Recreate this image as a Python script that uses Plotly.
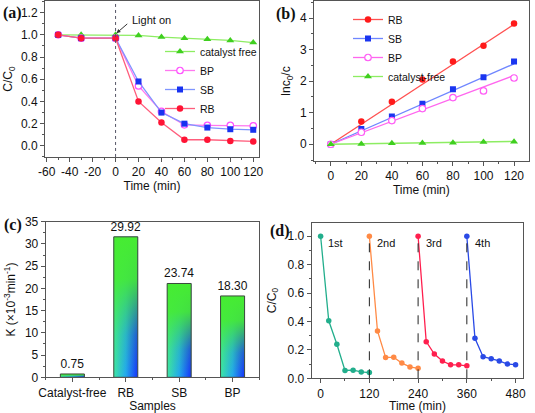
import plotly.graph_objects as go

# ---------------- (a) C/C0 vs time ----------------
time_a = [-50, -30, 0, 20, 40, 60, 80, 100, 120]
cc0_catalyst_free = [1.0, 1.0, 1.0, 0.995, 0.98, 0.97, 0.96, 0.95, 0.93]
cc0_BP = [1.0, 0.97, 0.97, 0.54, 0.31, 0.19, 0.185, 0.185, 0.18]
cc0_SB = [1.0, 0.97, 0.97, 0.58, 0.30, 0.20, 0.165, 0.15, 0.145]
cc0_RB = [1.0, 0.97, 0.97, 0.40, 0.21, 0.055, 0.055, 0.045, 0.04]
light_on_time = 0
a_xtick_vals = [-60, -40, -20, 0, 20, 40, 60, 80, 100, 120]
a_xtick_text = ["-60", "-40", "-20", "0", "20", "40", "60", "80", "100", "120"]

# ---------------- (b) ln(c0/c) vs time ----------------
time_b = [0, 20, 40, 60, 80, 100, 120]
ln_RB = [0, 0.72, 1.35, 2.05, 2.62, 3.12, 3.83]
ln_SB = [0, 0.48, 0.88, 1.28, 1.74, 2.12, 2.62]
ln_BP = [0, 0.38, 0.75, 1.13, 1.48, 1.69, 2.10]
ln_cf = [0, 0.01, 0.03, 0.04, 0.05, 0.07, 0.08]
fit_time = [0, 120]
fit_RB = [0, 3.80]
fit_SB = [0, 2.55]
fit_BP = [0, 2.18]
fit_cf = [0, 0.09]

# ---------------- (c) rate constants ----------------
samples = ["Catalyst-free", "RB", "SB", "BP"]
k_bar_heights = [0.75, 31.6, 21.1, 18.3]
k_labels = ["0.75", "29.92", "23.74", "18.30"]

# ---------------- (d) cycling ----------------
cycle_names = ["1st", "2nd", "3rd", "4th"]
cycle_starts = [0, 120, 240, 360]
cycle_times = [
    [0, 20, 40, 60, 80, 100, 120],
    [120, 140, 160, 180, 200, 220, 240],
    [240, 260, 280, 300, 320, 340, 360],
    [360, 380, 400, 420, 440, 460, 480],
]
cycle_values = [
    [1.0, 0.405, 0.24, 0.055, 0.057, 0.045, 0.04],
    [1.0, 0.333, 0.147, 0.148, 0.107, 0.08, 0.07],
    [1.0, 0.258, 0.171, 0.122, 0.095, 0.095, 0.088],
    [1.0, 0.281, 0.152, 0.138, 0.122, 0.10, 0.096],
]
cycle_boundaries = [120, 240, 360]
cycle_colors = ["#22ae8c", "#ff8a45", "#ff1f4e", "#2a4ae6"]

AX = "#555555"
FONT = "Liberation Sans, Arial, sans-serif"
TICK = 12

fig = go.Figure()

# ---- (a)
a_specs = [
    ("catalyst free", cc0_catalyst_free, "#8ded62", dict(symbol="triangle-up", size=7, color="#3fcf1f")),
    ("BP", cc0_BP, "#ff77f0", dict(symbol="circle", size=6.5, color="white", line=dict(color="#ff4fff", width=1.2))),
    ("SB", cc0_SB, "#7f95ff", dict(symbol="square", size=6, color="#1832f0")),
    ("RB", cc0_RB, "#ff5d7c", dict(symbol="circle", size=6.5, color="#ff1435")),
]
for name, vals, lc, mk in a_specs:
    fig.add_trace(go.Scatter(x=time_a, y=vals, name=name, mode="lines+markers",
                             line=dict(color=lc, width=1.3), marker=mk,
                             xaxis="x", yaxis="y", legend="legend"))

# ---- (b)
b_specs = [
    ("RB", ln_RB, fit_RB, "#ff5050", dict(symbol="circle", size=6.5, color="#ff1a1a")),
    ("SB", ln_SB, fit_SB, "#6f86ff", dict(symbol="square", size=6, color="#1a35f0")),
    ("BP", ln_BP, fit_BP, "#ff66ee", dict(symbol="circle", size=6.5, color="white", line=dict(color="#ff5cf5", width=1.2))),
    ("catalyst-free", ln_cf, fit_cf, "#8ded62", dict(symbol="triangle-up", size=7, color="#3fcf1f")),
]
for name, vals, fit, lc, mk in b_specs:
    fig.add_trace(go.Scatter(x=fit_time, y=fit, mode="lines", line=dict(color=lc, width=1.3),
                             showlegend=False, xaxis="x2", yaxis="y2", hoverinfo="skip"))
    fig.add_trace(go.Scatter(x=time_b, y=vals, mode="markers", marker=mk, name=name,
                             showlegend=False, xaxis="x2", yaxis="y2"))
    fig.add_trace(go.Scatter(x=[None], y=[None], mode="lines+markers", name=name,
                             line=dict(color=lc, width=1.3), marker=mk,
                             xaxis="x2", yaxis="y2", legend="legend2"))

# ---- (c) gradient bars: blue at lower left, green towards upper right
# (plotly's horizontal fillgradient puts colorscale 0 on the right edge)
bar_width = 0.45
for i, h in enumerate(k_bar_heights):
    x0, x1 = i - bar_width / 2, i + bar_width / 2
    xs = [x0, x1, x1, x0, x0]
    ys = [0, 0, h, h, 0]
    fig.add_trace(go.Scatter(x=xs, y=ys, fill="toself", mode="none",
                             fillgradient=dict(type="horizontal",
                                               colorscale=[[0, "#3de6a6"], [0.5, "#22a8ef"], [1, "#1530ff"]]),
                             showlegend=False, hoverinfo="skip", xaxis="x3", yaxis="y3"))
    fig.add_trace(go.Scatter(x=xs, y=ys, fill="toself", mode="lines",
                             line=dict(color="#3c4a3c", width=1),
                             fillgradient=dict(type="vertical",
                                               colorscale=[[0, "rgba(70,236,50,0)"], [0.3, "rgba(70,236,50,0.22)"],
                                                           [0.7, "rgba(70,236,50,0.92)"], [1, "rgba(70,236,50,1)"]]),
                             showlegend=False, hoverinfo="skip", xaxis="x3", yaxis="y3"))
fig.add_trace(go.Bar(x=list(range(len(samples))), y=k_bar_heights, width=bar_width,
                     text=k_labels, textposition="outside", cliponaxis=False, constraintext="none",
                     textfont=dict(size=TICK, color="#111"),
                     marker=dict(color="rgba(0,0,0,0)", line=dict(width=0)),
                     showlegend=False, xaxis="x3", yaxis="y3"))

# ---- (d)
for name, ts, vs, col in zip(cycle_names, cycle_times, cycle_values, cycle_colors):
    fig.add_trace(go.Scatter(x=ts, y=vs, mode="lines+markers", name=name,
                             line=dict(color=col, width=1.3),
                             marker=dict(symbol="circle", size=5.5, color=col),
                             showlegend=False, xaxis="x4", yaxis="y4"))


def axis(domain, rng, anchor, dtick=None, minor_dtick=None, title=None, standoff=4, **kw):
    d = dict(domain=domain, range=rng, anchor=anchor, showline=True, mirror=True, automargin=False,
             linecolor=AX, linewidth=1, ticks="outside", ticklen=4, tickcolor=AX, tickangle=0,
             tickfont=dict(size=TICK, color="#111", family=FONT), showgrid=False, zeroline=False)
    if dtick is not None:
        d["dtick"] = dtick
    if minor_dtick is not None:
        d["minor"] = dict(ticks="outside", ticklen=2, tickcolor=AX, dtick=minor_dtick, showgrid=False)
    if title is not None:
        d["title"] = dict(text=title, font=dict(size=12, color="#111", family=FONT), standoff=standoff)
    d.update(kw)
    return d


fig.update_layout(
    width=535, height=413, margin=dict(l=0, r=0, t=0, b=0, autoexpand=False),
    paper_bgcolor="white", plot_bgcolor="white",
    font=dict(family=FONT, size=11, color="#111"),
    xaxis=axis([0.0841, 0.4841], [-61.5, 125], "y", None, None, "Time (min)", 0,
               tickmode="array", tickvals=a_xtick_vals, ticktext=a_xtick_text,
               minor=dict(ticks="outside", ticklen=2, tickcolor=AX, tick0=0, dtick=10)),
    yaxis=axis([0.6199, 0.9976], [-0.1, 1.305], "x", 0.2, 0.1, "C/C<sub>0</sub>", 5, tickformat=".1f", tick0=0),
    xaxis2=axis([0.5869, 0.9882], [-11, 129.6], "y2", 20, 10, "Time (min)", 1),
    yaxis2=axis([0.6102, 0.9976], [-0.53, 4.54], "x2", 1, 0.5, "lnc<sub>0</sub>/c", 6),
    xaxis3=axis([0.0854, 0.4846], [-0.5, 3.5], "y3", None, None, "Samples", 3,
                tickmode="array", tickvals=list(range(len(samples))), ticktext=samples,
                minor=dict(ticks="outside", ticklen=2, tickcolor=AX, tick0=0.5, dtick=1)),
    yaxis3=axis([0.0864, 0.4632], [0, 35], "x3", 5, 2.5, "K (×10<sup>-3</sup>min<sup>-1</sup>)", 6),
    xaxis4=axis([0.5826, 0.9781], [-22, 499], "y4", 120, 60, "Time (min)", 1),
    yaxis4=axis([0.0840, 0.4608], [0, 1.095], "x4", 0.2, 0.1, "C/C<sub>0</sub>", 8, tickformat=".1f"),
    legend=dict(x=160 / 535, y=1 - 37 / 413, xanchor="left", yanchor="top",
                bgcolor="rgba(0,0,0,0)", font=dict(size=10.5, color="#111"), tracegroupgap=0),
    legend2=dict(x=348 / 535, y=1 - 5 / 413, xanchor="left", yanchor="top",
                 bgcolor="rgba(0,0,0,0)", font=dict(size=10.5, color="#111"), tracegroupgap=0),
)

shapes = [dict(type="line", xref="x", yref="y domain", x0=light_on_time, x1=light_on_time, y0=0, y1=1,
               line=dict(color="#555566", width=1, dash="dot"))]
for b in cycle_boundaries:
    shapes.append(dict(type="line", xref="x4", yref="y4", x0=b, x1=b, y0=0, y1=1.0,
                       line=dict(color="#222", width=1, dash="dash")))
fig.update_layout(shapes=shapes)

ann = []
for txt, xp, yp in [("(a)", 1, 13), ("(b)", 274, 14), ("(c)", 2, 225), ("(d)", 268, 231)]:
    ann.append(dict(text="<b>" + txt + "</b>", x=xp / 535, y=1 - yp / 413, xref="paper", yref="paper",
                    xanchor="left", yanchor="middle", showarrow=False,
                    font=dict(family="Liberation Serif, Times New Roman, serif", size=16, color="#111")))
ann.append(dict(text="Light on", x=13.0, y=1.135, xref="x", yref="y", xanchor="left", yanchor="middle",
                showarrow=False, font=dict(size=11, color="#111")))
ann.append(dict(text="", x=0.8, y=1.015, ax=11.5, ay=1.11, xref="x", yref="y", axref="x", ayref="y",
                showarrow=True, arrowhead=2, arrowsize=0.8, arrowwidth=1, arrowcolor="#333"))
for name, start in zip(cycle_names, cycle_starts):
    ann.append(dict(text=name, x=start + 14, y=0.95, xref="x4", yref="y4", xanchor="left", yanchor="middle",
                    showarrow=False, font=dict(size=11, color="#111")))
fig.update_layout(annotations=ann)

fig.write_html("out.html", config={"displayModeBar": False},
               post_script="document.body.style.margin='0';document.body.style.overflow='hidden';")
